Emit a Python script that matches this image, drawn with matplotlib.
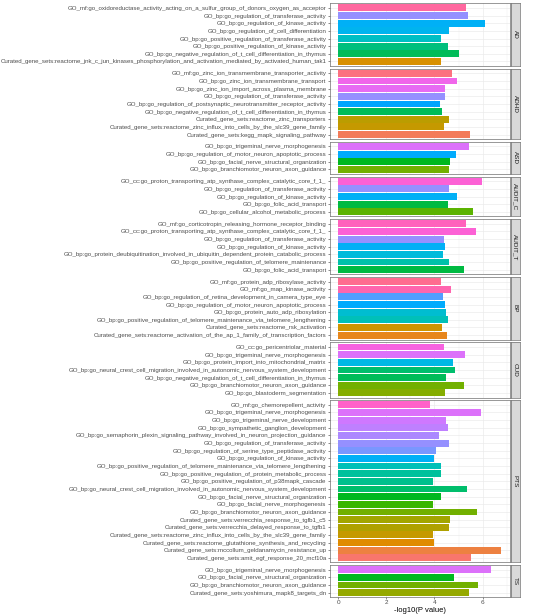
import numpy as np
import matplotlib
matplotlib.use('Agg')
import matplotlib.pyplot as plt

plt.rcParams['font.family'] = ['Liberation Sans', 'DejaVu Sans']

# panels (facets) and their terms / -log10(P) values
panels = ['AD', 'ADHD', 'ASD', 'AUDIT_C', 'AUDIT_T', 'BP', 'CUD', 'PTS', 'TS']

ad_terms = ['GO_mf:go_oxidoreductase_activity_acting_on_a_sulfur_group_of_donors_oxygen_as_acceptor',
            'GO_bp:go_regulation_of_transferase_activity',
            'GO_bp:go_regulation_of_kinase_activity',
            'GO_bp:go_regulation_of_cell_differentiation',
            'GO_bp:go_positive_regulation_of_transferase_activity',
            'GO_bp:go_positive_regulation_of_kinase_activity',
            'GO_bp:go_negative_regulation_of_t_cell_differentiation_in_thymus',
            'Curated_gene_sets:reactome_jnk_c_jun_kinases_phosphorylation_and_activation_mediated_by_activated_human_tak1']
ad_vals = [5.31, 5.41, 6.10, 4.61, 4.29, 4.57, 5.01, 4.29]

adhd_terms = ['GO_mf:go_zinc_ion_transmembrane_transporter_activity',
              'GO_bp:go_zinc_ion_transmembrane_transport',
              'GO_bp:go_zinc_ion_import_across_plasma_membrane',
              'GO_bp:go_regulation_of_transferase_activity',
              'GO_bp:go_regulation_of_postsynaptic_neurotransmitter_receptor_activity',
              'GO_bp:go_negative_regulation_of_t_cell_differentiation_in_thymus',
              'Curated_gene_sets:reactome_zinc_transporters',
              'Curated_gene_sets:reactome_zinc_influx_into_cells_by_the_slc39_gene_family',
              'Curated_gene_sets:kegg_mapk_signaling_pathway']
adhd_vals = [4.72, 4.94, 4.44, 4.44, 4.25, 4.32, 4.61, 4.41, 5.48]

asd_terms = ['GO_bp:go_trigeminal_nerve_morphogenesis',
             'GO_bp:go_regulation_of_motor_neuron_apoptotic_process',
             'GO_bp:go_facial_nerve_structural_organization',
             'GO_bp:go_branchiomotor_neuron_axon_guidance']
asd_vals = [5.43, 4.88, 4.65, 4.62]

auditc_terms = ['GO_cc:go_proton_transporting_atp_synthase_complex_catalytic_core_f_1_',
                'GO_bp:go_regulation_of_transferase_activity',
                'GO_bp:go_regulation_of_kinase_activity',
                'GO_bp:go_folic_acid_transport',
                'GO_bp:go_cellular_alcohol_metabolic_process']
auditc_vals = [5.96, 4.62, 4.92, 4.57, 5.60]

auditt_terms = ['GO_mf:go_corticotropin_releasing_hormone_receptor_binding',
                'GO_cc:go_proton_transporting_atp_synthase_complex_catalytic_core_f_1_',
                'GO_bp:go_regulation_of_transferase_activity',
                'GO_bp:go_regulation_of_kinase_activity',
                'GO_bp:go_protein_deubiquitination_involved_in_ubiquitin_dependent_protein_catabolic_process',
                'GO_bp:go_positive_regulation_of_telomere_maintenance',
                'GO_bp:go_folic_acid_transport']
auditt_vals = [5.31, 5.72, 4.41, 4.44, 4.36, 4.62, 5.24]

bp_terms = ['GO_mf:go_protein_adp_ribosylase_activity',
            'GO_mf:go_map_kinase_activity',
            'GO_bp:go_regulation_of_retina_development_in_camera_type_eye',
            'GO_bp:go_regulation_of_motor_neuron_apoptotic_process',
            'GO_bp:go_protein_auto_adp_ribosylation',
            'GO_bp:go_positive_regulation_of_telomere_maintenance_via_telomere_lengthening',
            'Curated_gene_sets:reactome_rsk_activation',
            'Curated_gene_sets:reactome_activation_of_the_ap_1_family_of_transcription_factors']
bp_vals = [4.29, 4.68, 4.36, 4.44, 4.50, 4.57, 4.30, 4.53]

cud_terms = ['GO_cc:go_pericentriolar_material',
             'GO_bp:go_trigeminal_nerve_morphogenesis',
             'GO_bp:go_protein_import_into_mitochondrial_matrix',
             'GO_bp:go_neural_crest_cell_migration_involved_in_autonomic_nervous_system_development',
             'GO_bp:go_negative_regulation_of_t_cell_differentiation_in_thymus',
             'GO_bp:go_branchiomotor_neuron_axon_guidance',
             'GO_bp:go_blastoderm_segmentation']
cud_vals = [4.41, 5.27, 4.76, 4.87, 4.48, 5.21, 4.44]

pts_terms = ['GO_mf:go_chemorepellent_activity',
             'GO_bp:go_trigeminal_nerve_morphogenesis',
             'GO_bp:go_trigeminal_nerve_development',
             'GO_bp:go_sympathetic_ganglion_development',
             'GO_bp:go_semaphorin_plexin_signaling_pathway_involved_in_neuron_projection_guidance',
             'GO_bp:go_regulation_of_transferase_activity',
             'GO_bp:go_regulation_of_serine_type_peptidase_activity',
             'GO_bp:go_regulation_of_kinase_activity',
             'GO_bp:go_positive_regulation_of_telomere_maintenance_via_telomere_lengthening',
             'GO_bp:go_positive_regulation_of_protein_metabolic_process',
             'GO_bp:go_positive_regulation_of_p38mapk_cascade',
             'GO_bp:go_neural_crest_cell_migration_involved_in_autonomic_nervous_system_development',
             'GO_bp:go_facial_nerve_structural_organization',
             'GO_bp:go_facial_nerve_morphogenesis',
             'GO_bp:go_branchiomotor_neuron_axon_guidance',
             'Curated_gene_sets:verrecchia_response_to_tgfb1_c5',
             'Curated_gene_sets:verrecchia_delayed_response_to_tgfb1',
             'Curated_gene_sets:reactome_zinc_influx_into_cells_by_the_slc39_gene_family',
             'Curated_gene_sets:reactome_glutathione_synthesis_and_recycling',
             'Curated_gene_sets:mccollum_geldanamycin_resistance_up',
             'Curated_gene_sets:amit_egf_response_20_mcf10a']
pts_vals = [3.82, 5.93, 4.48, 4.58, 4.18, 4.61, 4.07, 4.00, 4.26, 4.26, 3.96,
            5.34, 4.29, 3.93, 5.75, 4.65, 4.61, 3.93, 4.00, 6.77, 5.50]

ts_terms = ['GO_bp:go_trigeminal_nerve_morphogenesis',
            'GO_bp:go_facial_nerve_structural_organization',
            'GO_bp:go_branchiomotor_neuron_axon_guidance',
            'Curated_gene_sets:yoshimura_mapk8_targets_dn']
ts_vals = [6.35, 4.82, 5.82, 5.42]

all_terms = [ad_terms, adhd_terms, asd_terms, auditc_terms, auditt_terms,
             bp_terms, cud_terms, pts_terms, ts_terms]
all_vals = [ad_vals, adhd_vals, asd_vals, auditc_vals, auditt_vals,
            bp_vals, cud_vals, pts_vals, ts_vals]


def hcl(h, c=100.0, l=65.0):
    # same as R grDevices::hcl (polar Luv, D65)
    WX, WY, WZ = 95.047, 100.0, 108.883
    h = np.deg2rad(h)
    U = c * np.cos(h)
    V = c * np.sin(h)
    Y = WY * ((l + 16) / 116) ** 3
    t = WX + WY + WZ
    x = WX / t
    y = WY / t
    uN = 2 * x / (6 * y - x + 1.5)
    vN = 4.5 * y / (6 * y - x + 1.5)
    u = U / (13 * l) + uN
    v = V / (13 * l) + vN
    X = 9.0 * Y * u / (4 * v)
    Z = -X / 3 - 5 * Y + 3 * Y / v

    def g(a):
        a = a / WY
        return 1.055 * a ** (1 / 2.4) - 0.055 if a > 0.00304 else 12.92 * a
    r = g(3.240479 * X - 1.537150 * Y - 0.498535 * Z)
    gg = g(-0.969256 * X + 1.875992 * Y + 0.041556 * Z)
    b = g(0.055648 * X - 0.204043 * Y + 1.057311 * Z)
    return tuple(min(max(k, 0), 1) for k in (r, gg, b))


levels = sorted(set(t for ts in all_terms for t in ts))
n_lev = len(levels)
hues = np.linspace(15, 375, n_lev + 1)[:n_lev]
colmap = {t: hcl(hh) for t, hh in zip(levels, hues)}

W, H = 546, 616
fig = plt.figure(figsize=(W / 100, H / 100), dpi=100)

top, bottom, gap = 3.3, 597.3, 2.7
units = [len(t) - 1 + 1.2 for t in all_terms]
upx = (bottom - top - gap * (len(panels) - 1)) / sum(units)
px_left, px_right = 330, 510
border = '#6E6E6E'

y0 = top
for i, (name, terms, vals) in enumerate(zip(panels, all_terms, all_vals)):
    h = units[i] * upx
    ax = fig.add_axes([px_left / W, 1 - (y0 + h) / H, (px_right - px_left) / W, h / H])
    order = sorted(range(len(terms)), key=lambda k: terms[k])
    t_sorted = [terms[k] for k in order]
    v_sorted = [vals[k] for k in order]
    pos = np.arange(len(t_sorted))
    ax.barh(pos, v_sorted, height=0.9, color=[colmap[t] for t in t_sorted], zorder=2)
    ax.set_ylim(-0.6, len(t_sorted) - 1 + 0.6)
    ax.set_xlim(-0.34, 7.14)
    ax.set_yticks(pos)
    ax.set_yticklabels(t_sorted)
    ax.set_xticks([0, 2, 4, 6])
    ax.set_xticks([1, 3, 5, 7], minor=True)
    ax.grid(True, which='major', color='#EBEBEB', lw=0.5, zorder=0)
    ax.grid(True, which='minor', axis='x', color='#EBEBEB', lw=0.25, zorder=0)
    ax.tick_params(axis='y', which='major', length=1.5, width=0.4, color='#333333',
                   labelsize=4.4, labelcolor='#4D4D4D', pad=1)
    ax.tick_params(axis='x', which='major', length=1.5, width=0.4, color='#333333',
                   labelsize=4.6, labelcolor='#4D4D4D', pad=0.5)
    ax.tick_params(which='minor', length=0)
    if i < len(panels) - 1:
        ax.tick_params(axis='x', labelbottom=False, length=0)
    for s in ax.spines.values():
        s.set_color(border)
        s.set_linewidth(0.5)

    sax = fig.add_axes([511 / W, 1 - (y0 + h) / H, 9 / W, h / H])
    sax.set_facecolor('#D9D9D9')
    sax.set_xticks([])
    sax.set_yticks([])
    for s in sax.spines.values():
        s.set_color(border)
        s.set_linewidth(0.5)
    sax.text(0.5, 0.5, name, rotation=-90, ha='center', va='center',
             fontsize=4.6, color='#1A1A1A', transform=sax.transAxes)

    if i == len(panels) - 1:
        ax.set_xlabel('-log10(P value)', fontsize=5.5, labelpad=1.5)
    y0 += h + gap

fig.savefig('out.png', dpi=100)
